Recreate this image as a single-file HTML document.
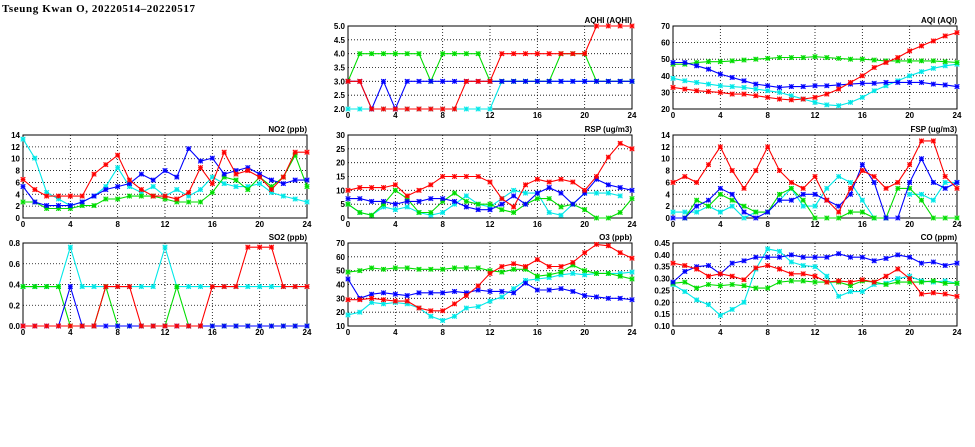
<!DOCTYPE html>
<html><head><meta charset="utf-8"><style>
body{margin:0;background:#fff;}
svg{display:block;font-family:"Liberation Sans",sans-serif;}
</style></head><body>
<svg id="chart" width="975" height="447" viewBox="0 0 975 447" xmlns="http://www.w3.org/2000/svg">
<text x="2" y="12" font-family="Liberation Serif, serif" font-weight="bold" font-size="11" textLength="193">Tseung Kwan O, 20220514–20220517</text>
</svg>
<script>
const hours = [0,1,2,3,4,5,6,7,8,9,10,11,12,13,14,15,16,17,18,19,20,21,22,23,24];
const xTicks = [0,4,8,12,16,20,24];
const seriesColors = ['#00e8e8','#00dd00','#0000ff','#ff0000'];

const aqhiCyan  = [2,2,2,2,2,2,2,2,2,2,2,2,2,3,3,3,3,3,3,3,3,3,3,3,3];
const aqhiGreen = [3,4,4,4,4,4,4,3,4,4,4,4,3,3,3,3,3,3,4,4,4,3,3,3,3];
const aqhiBlue  = [3,3,2,3,2,3,3,3,3,3,3,3,3,3,3,3,3,3,3,3,3,3,3,3,3];
const aqhiRed   = [3,3,2,2,2,2,2,2,2,2,3,3,3,4,4,4,4,4,4,4,4,5,5,5,5];
const aqhiTicks = ['2.0','2.5','3.0','3.5','4.0','4.5','5.0'];

const aqiCyan  = [38.5,37,36,35,34,33.5,33,32,31,30,28,26,24,22.5,22,24,27,31,34,37,40,42.5,44.5,46,47];
const aqiGreen = [47,47,48,48.5,48.5,49,49.5,50,50.5,51,51,51,51.5,51,50.5,50,50,49.5,49,49,49,49,49,48.5,48];
const aqiBlue  = [48,48,46,44,41,39,37,35,34,33,33.5,33.5,34,34,34.5,35,35.5,35.5,36,36,36,36,35,34.5,33.5];
const aqiRed   = [33,32,31,30.5,30,29,29,28,27,26,25.5,26,27,29,32,36,40,45,48,51,55,58,61,64,66];
const aqiTicks = ['20','30','40','50','60','70'];

const no2Cyan  = [13.3,10.1,4.3,3.2,2.1,2.7,3.7,5.3,8.5,5.3,4.3,5.3,3.7,4.8,3.7,4.8,6.9,5.8,5.3,5.3,5.8,4.3,3.7,3.2,2.7];
const no2Green = [2.7,2.7,1.6,1.6,1.6,2.1,2.1,3.2,3.2,3.7,3.7,3.7,3.2,2.7,2.7,2.7,4.3,6.9,6.4,4.8,6.9,5.3,6.9,10.6,5.3];
const no2Blue  = [5.3,2.7,2.1,2.1,2.1,2.7,3.7,4.8,5.3,5.8,7.4,6.4,8,6.9,11.7,9.6,10.1,7.4,8,8.5,7.4,6.4,5.8,6.4,6.4];
const no2Red   = [6.5,4.8,3.7,3.7,3.7,3.7,7.4,9,10.6,6.4,4.8,3.7,3.7,3.2,4.3,8.5,5.8,11.1,7.4,8,6.9,4.8,6.9,11.1,11.1];
const no2Ticks = ['0','2','4','6','8','10','12','14'];

const rspCyan  = [5,2,1,4,3,4,2,1,2,5,8,5,4,7,10,9,9,2,1,5,9,9,9,8,null];
const rspGreen = [5,2,1,5,10,7,2,2,6,9,6,5,5,3,2,5,7,7,4,5,3,0,0,2,7];
const rspBlue  = [7,7,6,6,5,6,6,7,7,6,4,3,3,5,8,5,9,11,9,5,9,14,12,11,10];
const rspRed   = [10,11,11,11,12,8,10,12,15,15,15,15,13,7,4,12,14,13,14,13,10,15,22,27,25];
const rspTicks = ['0','5','10','15','20','25','30'];

const fspCyan  = [1,1,1,2,1,2,0,1,1,3,5,2,2,5,7,6,3,0,0,null,4,4,3,6,6];
const fspGreen = [null,0,3,2,4,3,2,1,1,4,5,3,0,0,0,1,1,0,0,5,5,3,0,0,0];
const fspBlue  = [0,0,2,3,5,4,1,0,1,3,3,4,4,3,2,4,9,6,0,0,6,10,6,5,6];
const fspRed   = [6,7,6,9,12,8,5,8,12,8,6,5,7,3,1,5,8,7,5,6,9,13,13,7,5];
const fspTicks = ['0','2','4','6','8','10','12','14'];

const so2Cyan  = [0.38,0.38,0.38,0.38,0.76,0.38,0.38,0.38,0.38,0.38,0.38,0.38,0.76,0.38,0.38,0.38,0.38,0.38,0.38,0.38,0.38,0.38,0.38,0.38,0.38];
const so2Green = [0.38,0.38,0.38,0.38,0,0,0,0.38,0,0,0,0,0,0.38,0,0,0,0,0,0,0,0,0,0,0];
const so2Blue  = [0,0,0,0,0.38,0,0,0,0,0,0,0,0,0,0,0,0,0,0,0,0,0,0,0,0];
const so2Red   = [0,0,0,0,0,0,0,0.38,0.38,0.38,0,0,0,0,0,0,0.38,0.38,0.38,0.76,0.76,0.76,0.38,0.38,0.38];
const so2Ticks = ['0.0','0.2','0.4','0.6','0.8'];

const o3Cyan  = [18,20,27,26,27,26,23,17,14,17,23,24,28,31,37,43,44,45,47,48,47,48,48,48,49];
const o3Green = [49,50,52,51,52,52,51,51,51,52,52,52,50,49,51,51,46,47,49,54,50,48,48,46,44];
const o3Blue  = [44,30,33,34,33,32,34,34,34,35,34,36,35,35,34,41,36,36,37,35,32,31,30,30,29];
const o3Red   = [29,29,30,29,28,28,23,21,21,26,32,39,48,53,55,53,58,53,53,56,63,69,68,63,59];
const o3Ticks = ['10','20','30','40','50','60','70'];

const coCyan  = [0.275,0.245,0.21,0.19,0.145,0.17,0.2,0.34,0.425,0.415,0.37,0.355,0.35,0.31,0.225,0.245,0.245,0.275,0.28,0.3,0.31,0.29,0.285,0.29,0.28];
const coGreen = [0.28,0.285,0.26,0.275,0.27,0.275,0.27,0.26,0.26,0.285,0.29,0.29,0.285,0.285,0.285,0.27,0.29,0.285,0.275,0.285,0.285,0.285,0.29,0.28,0.28];
const coBlue  = [0.285,0.33,0.35,0.355,0.32,0.365,0.375,0.39,0.39,0.39,0.4,0.39,0.39,0.39,0.405,0.39,0.39,0.375,0.385,0.4,0.39,0.365,0.37,0.355,0.365];
const coRed   = [0.365,0.355,0.34,0.31,0.32,0.31,0.295,0.345,0.355,0.34,0.32,0.32,0.31,0.285,0.29,0.285,0.295,0.285,0.31,0.34,0.3,0.235,0.24,0.235,0.225];
const coTicks = ['0.10','0.15','0.20','0.25','0.30','0.35','0.40','0.45'];

const NS='http://www.w3.org/2000/svg';
const svg=document.getElementById('chart');
function mk(tag,attrs,parent){const e=document.createElementNS(NS,tag);for(const k in attrs)e.setAttribute(k,attrs[k]);(parent||svg).appendChild(e);return e;}

const panels=[
 {name:'aqhi',title:'AQHI (AQHI)',x:348,y:26,ticks:aqhiTicks,series:[aqhiCyan,aqhiGreen,aqhiBlue,aqhiRed]},
 {name:'aqi',title:'AQI (AQI)',x:673,y:26,ticks:aqiTicks,series:[aqiCyan,aqiGreen,aqiBlue,aqiRed]},
 {name:'no2',title:'NO2 (ppb)',x:23,y:135,ticks:no2Ticks,series:[no2Cyan,no2Green,no2Blue,no2Red]},
 {name:'rsp',title:'RSP (ug/m3)',x:348,y:135,ticks:rspTicks,series:[rspCyan,rspGreen,rspBlue,rspRed]},
 {name:'fsp',title:'FSP (ug/m3)',x:673,y:135,ticks:fspTicks,series:[fspCyan,fspGreen,fspBlue,fspRed]},
 {name:'so2',title:'SO2 (ppb)',x:23,y:243,ticks:so2Ticks,series:[so2Cyan,so2Green,so2Blue,so2Red]},
 {name:'o3',title:'O3 (ppb)',x:348,y:243,ticks:o3Ticks,series:[o3Cyan,o3Green,o3Blue,o3Red]},
 {name:'co',title:'CO (ppm)',x:673,y:243,ticks:coTicks,series:[coCyan,coGreen,coBlue,coRed]}
];
const W=284,H=83;
const colorNames=['cyan','green','blue','red'];

panels.forEach(p=>{
  const g=mk('g',{});
  
  
  const yMin=parseFloat(p.ticks[0]), yMax=parseFloat(p.ticks[p.ticks.length-1]);
  const xs=v=>p.x+v/24*W;
  const ys=v=>p.y+H-(v-yMin)/(yMax-yMin)*H;
  p.ticks.forEach((t,i)=>{
    const yy=ys(parseFloat(t));
    if(i>0&&i<p.ticks.length-1){const l=mk('line',{x1:p.x,x2:p.x+W,y1:yy,y2:yy,stroke:'#000','stroke-width':0.8,'stroke-dasharray':'1,2'},g);
      }
    const tx=mk('text',{x:p.x-3,y:yy+3,'text-anchor':'end','font-size':8,'font-weight':'bold'},g);
    
    tx.textContent=t;
  });
  xTicks.forEach((t,i)=>{
    const xx=xs(t);
    if(i>0&&i<xTicks.length-1){const l=mk('line',{x1:xx,x2:xx,y1:p.y,y2:p.y+H,stroke:'#000','stroke-width':0.8,'stroke-dasharray':'1,2'},g);
      }
    const tx=mk('text',{x:xx,y:p.y+H+9,'text-anchor':'middle','font-size':8,'font-weight':'bold'},g);
    
    tx.textContent=String(t);
  });
  const fr=mk('rect',{x:p.x,y:p.y,width:W,height:H,fill:'none',stroke:'#000','stroke-width':1},g);
  
  const tt=mk('text',{x:p.x+W,y:p.y-3,'text-anchor':'end','font-size':8,'font-weight':'bold'},g);
  
  tt.textContent=p.title;
  p.series.forEach((arr,si)=>{
    const col=seriesColors[si];
    const sg=mk('g',{},g);
    
    
    let d='',pen=false;
    arr.forEach((v,i)=>{
      if(v===null||v===undefined){pen=false;return;}
      d+=(pen?'L':'M')+xs(hours[i]).toFixed(1)+' '+ys(v).toFixed(1);pen=true;
    });
    const path=mk('path',{d:d,fill:'none',stroke:col,'stroke-width':1.1},sg);
    
    arr.forEach((v,i)=>{
      if(v===null||v===undefined)return;
      const cx=xs(hours[i]),cy=ys(v),r=2.3;
      const m=mk('g',{},sg);
      
      
      mk('rect',{x:cx-r,y:cy-r,width:2*r,height:2*r,fill:col,'fill-opacity':0.3},m);
      mk('path',{d:`M${cx-r} ${cy-r}L${cx+r} ${cy+r}M${cx-r} ${cy+r}L${cx+r} ${cy-r}M${cx} ${cy-r}L${cx} ${cy+r}M${cx-r} ${cy}L${cx+r} ${cy}`,stroke:col,'stroke-width':1},m);
    });
  });
});
</script>
</body></html>
